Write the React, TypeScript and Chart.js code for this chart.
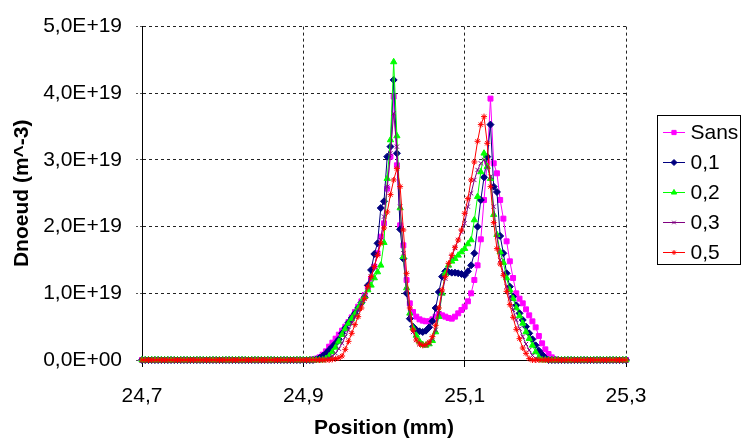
import React, { useEffect, useRef } from "react";
import { Chart, registerables } from "chart.js";
import { drawPoint } from "chart.js/helpers";

Chart.register(...registerables);

// Sampling grid of the profile (mm)
const POSITION_START = 24.7;
const POSITION_STEP = 0.004;

// Values in units of 1E19 m^-3, one per grid position (151 points, 24.700 .. 25.300)
const sans = [
  0, 0, 0, 0, 0, 0, 0, 0, 0, 0,
  0, 0, 0, 0, 0, 0, 0, 0, 0, 0,
  0, 0, 0, 0, 0, 0, 0, 0, 0, 0,
  0, 0, 0, 0, 0, 0, 0, 0, 0, 0,
  0, 0, 0, 0, 0, 0, 0, 0, 0, 0,
  0, 0, 0, 0.01, 0.02, 0.04, 0.08, 0.13, 0.2, 0.26,
  0.32, 0.38, 0.44, 0.5, 0.57, 0.64, 0.72, 0.8, 0.88, 0.97,
  1.08, 1.22, 1.4, 1.6, 1.85, 2.05, 2.57, 3.05, 3.95, 2.92,
  2.02, 1.72, 1.2, 0.85, 0.72, 0.65, 0.61, 0.59, 0.58, 0.58,
  0.61, 0.65, 0.69, 0.67, 0.65, 0.63, 0.62, 0.65, 0.7, 0.75,
  0.8, 0.88, 1.0, 1.2, 1.42, 1.81, 2.4, 2.98, 3.92, 2.95,
  2.8, 2.4, 2.12, 1.78, 1.48, 1.23, 1.0, 0.92, 0.85, 0.76,
  0.67, 0.58, 0.49, 0.36, 0.25, 0.16, 0.09, 0.04, 0.01, 0,
  0, 0, 0, 0, 0, 0, 0, 0, 0, 0,
  0, 0, 0, 0, 0, 0, 0, 0, 0, 0,
  0,
];

const s01 = [
  0, 0, 0, 0, 0, 0, 0, 0, 0, 0,
  0, 0, 0, 0, 0, 0, 0, 0, 0, 0,
  0, 0, 0, 0, 0, 0, 0, 0, 0, 0,
  0, 0, 0, 0, 0, 0, 0, 0, 0, 0,
  0, 0, 0, 0, 0, 0, 0, 0, 0, 0,
  0, 0, 0, 0, 0.01, 0.03, 0.06, 0.1, 0.15, 0.2,
  0.25, 0.31, 0.4, 0.48, 0.56, 0.63, 0.7, 0.78, 0.86, 0.94,
  1.12, 1.35, 1.59, 1.75, 2.28, 2.38, 3.05, 3.2, 4.2, 3.1,
  1.96, 1.52, 1.0, 0.62, 0.5, 0.45, 0.43, 0.42, 0.44, 0.49,
  0.58, 0.78, 1.02, 1.25, 1.33, 1.32, 1.31, 1.31, 1.3, 1.29,
  1.27, 1.33, 1.42, 1.6, 2.0, 2.4, 2.74, 3.05, 3.53, 2.6,
  2.52, 1.86, 1.6, 1.3, 1.1, 0.95, 0.82, 0.7, 0.6, 0.5,
  0.4, 0.31, 0.22, 0.14, 0.08, 0.03, 0, 0, 0, 0,
  0, 0, 0, 0, 0, 0, 0, 0, 0, 0,
  0, 0, 0, 0, 0, 0, 0, 0, 0, 0,
  0,
];

const s02 = [
  0, 0, 0, 0, 0, 0, 0, 0, 0, 0,
  0, 0, 0, 0, 0, 0, 0, 0, 0, 0,
  0, 0, 0, 0, 0, 0, 0, 0, 0, 0,
  0, 0, 0, 0, 0, 0, 0, 0, 0, 0,
  0, 0, 0, 0, 0, 0, 0, 0, 0, 0,
  0, 0, 0, 0, 0, 0, 0, 0.02, 0.06, 0.12,
  0.19, 0.28, 0.38, 0.47, 0.55, 0.62, 0.69, 0.78, 0.87, 0.95,
  1.05, 1.12, 1.23, 1.32, 1.42, 1.76, 2.72, 3.3, 4.47, 3.36,
  2.28, 1.55, 1.08, 0.7, 0.48, 0.37, 0.28, 0.23, 0.22, 0.24,
  0.29, 0.42, 0.65, 1.0, 1.3, 1.42, 1.48, 1.52, 1.57, 1.62,
  1.67, 1.74, 1.8, 2.1, 2.45, 2.82, 3.1, 2.9, 2.72, 2.18,
  1.88, 1.62, 1.46, 1.23, 1.05, 0.92, 0.78, 0.66, 0.55, 0.42,
  0.32, 0.22, 0.12, 0.04, 0, 0, 0, 0, 0, 0,
  0, 0, 0, 0, 0, 0, 0, 0, 0, 0,
  0, 0, 0, 0, 0, 0, 0, 0, 0, 0,
  0,
];

const s03 = [
  0, 0, 0, 0, 0, 0, 0, 0, 0, 0,
  0, 0, 0, 0, 0, 0, 0, 0, 0, 0,
  0, 0, 0, 0, 0, 0, 0, 0, 0, 0,
  0, 0, 0, 0, 0, 0, 0, 0, 0, 0,
  0, 0, 0, 0, 0, 0, 0, 0, 0, 0,
  0, 0, 0, 0, 0, 0, 0, 0.01, 0.03, 0.06,
  0.1, 0.17, 0.25, 0.35, 0.45, 0.55, 0.65, 0.75, 0.86, 0.98,
  1.1, 1.25, 1.4, 1.6, 1.8, 2.15, 2.6, 3.1, 3.7, 3.2,
  2.3, 1.6, 1.05, 0.65, 0.42, 0.3, 0.24, 0.22, 0.22, 0.25,
  0.32, 0.45, 0.7, 1.0, 1.22, 1.42, 1.55, 1.68, 1.8, 1.92,
  2.05, 2.3, 2.5, 2.7, 2.85, 2.95, 3.0, 2.9, 2.75, 2.3,
  1.85, 1.5, 1.3, 1.1, 0.92, 0.75, 0.6, 0.47, 0.35, 0.24,
  0.15, 0.07, 0.02, 0, 0, 0, 0, 0, 0, 0,
  0, 0, 0, 0, 0, 0, 0, 0, 0, 0,
  0, 0, 0, 0, 0, 0, 0, 0, 0, 0,
  0,
];

const s05 = [
  0, 0, 0, 0, 0, 0, 0, 0, 0, 0,
  0, 0, 0, 0, 0, 0, 0, 0, 0, 0,
  0, 0, 0, 0, 0, 0, 0, 0, 0, 0,
  0, 0, 0, 0, 0, 0, 0, 0, 0, 0,
  0, 0, 0, 0, 0, 0, 0, 0, 0, 0,
  0, 0, 0, 0, 0, 0, 0, 0, 0, 0.01,
  0.02, 0.03, 0.06, 0.16, 0.28, 0.4, 0.53, 0.65, 0.78, 0.92,
  1.1, 1.25, 1.4, 1.57, 1.75, 1.98, 2.22, 2.48, 2.7, 2.87,
  2.6, 1.95, 1.3, 0.78, 0.45, 0.3, 0.24, 0.22, 0.23, 0.27,
  0.35, 0.52, 0.78, 1.05, 1.25, 1.45, 1.57, 1.69, 1.8, 1.95,
  2.2, 2.42, 2.7, 2.97, 3.28, 3.53, 3.65, 3.25, 2.6, 2.06,
  1.67, 1.44, 1.27, 1.03, 0.83, 0.64, 0.46, 0.32, 0.18, 0.1,
  0.02, 0, 0, 0, 0, 0, 0, 0, 0, 0,
  0, 0, 0, 0, 0, 0, 0, 0, 0, 0,
  0, 0, 0, 0, 0, 0, 0, 0, 0, 0,
  0,
];

const seriesNames = ["Sans", "0,1", "0,2", "0,3", "0,5"];
const seriesValues = [sans, s01, s02, s03, s05];
const seriesColors = ["#FF00FF", "#000080", "#00FF00", "#800080", "#FF0000"];
const seriesMarkers = ["rect", "rectRot", "triangle", "crossRot", "star"];
const markerRadius = [3.5, 3.5, 3.6, 3, 3];

const xTickValues = [24.7, 24.9, 25.1, 25.3];
const xTickLabels = ["24,7", "24,9", "25,1", "25,3"];
const yTickValues = [0, 1, 2, 3, 4, 5];
const yTickLabels = ["0,0E+00", "1,0E+19", "2,0E+19", "3,0E+19", "4,0E+19", "5,0E+19"];

const xTitle = "Position (mm)";
const yTitle = "Dnoeud (m^-3)";

const FONT = "'Liberation Sans', Arial, sans-serif";

const legendPlugin = {
  id: "boxLegend",
  afterDraw(chart: any) {
    const ctx = chart.ctx;
    const area = chart.chartArea;
    const boxLeft = area.right + 31.5;
    const boxTop = 115.5;
    const boxW = 83;
    const boxH = 149;
    const rowH = 30;
    ctx.save();
    ctx.strokeStyle = "#000";
    ctx.lineWidth = 1;
    ctx.setLineDash([]);
    ctx.strokeRect(boxLeft, boxTop, boxW, boxH);
    ctx.font = `21px ${FONT}`;
    ctx.textBaseline = "middle";
    ctx.textAlign = "left";
    seriesNames.forEach((name, i) => {
      const y = boxTop + 17 + i * rowH;
      const x0 = boxLeft + 5.5;
      ctx.strokeStyle = seriesColors[i];
      ctx.fillStyle = seriesColors[i];
      ctx.lineWidth = 1;
      ctx.beginPath();
      ctx.moveTo(x0, y);
      ctx.lineTo(x0 + 22, y);
      ctx.stroke();
      drawPoint(ctx, { pointStyle: seriesMarkers[i], radius: markerRadius[i] - 0.5, borderWidth: 1, rotation: 0 } as any, x0 + 11, y);
      ctx.fillStyle = "#000";
      ctx.fillText(name, boxLeft + 33, y + 1);
    });
    ctx.restore();
  },
};

export default function App() {
  const canvasRef = useRef<HTMLCanvasElement | null>(null);

  useEffect(() => {
    const canvas = canvasRef.current;
    if (!canvas) return;
    const positions = sans.map((_, i) => +(POSITION_START + i * POSITION_STEP).toFixed(3));

    const datasets = seriesValues.map((vals, s) => ({
      label: seriesNames[s],
      data: vals.map((v, i) => ({ x: positions[i], y: v })),
      borderColor: seriesColors[s],
      backgroundColor: seriesColors[s],
      pointBackgroundColor: seriesColors[s],
      pointBorderColor: seriesColors[s],
      pointStyle: seriesMarkers[s] as any,
      pointRadius: markerRadius[s],
      pointBorderWidth: 1,
      borderWidth: 1,
      tension: 0,
      fill: false,
      clip: false as any,
      order: 5 - s,
    }));

    const tickFont = { family: FONT, size: 21 };
    const titleFont = { family: FONT, size: 21, weight: "bold" as any };

    const chart = new Chart(canvas, {
      type: "line",
      data: { datasets },
      plugins: [legendPlugin],
      options: {
        animation: false,
        responsive: false,
        devicePixelRatio: 1,
        events: [],
        layout: { padding: { top: 20, right: 115, bottom: 0, left: 0 } },
        plugins: { legend: { display: false }, tooltip: { enabled: false } },
        scales: {
          x: {
            type: "linear",
            min: 24.7,
            max: 25.3,
            afterBuildTicks: (s: any) => {
              s.ticks = xTickValues.map((v) => ({ value: v }));
            },
            afterFit: (s: any) => {
              s.height = 83;
            },
            ticks: {
              callback: (_v: any, i: number) => xTickLabels[i],
              font: tickFont,
              color: "#000",
              padding: 17,
              maxRotation: 0,
              autoSkip: false,
            },
            grid: {
              color: "#222",
              lineWidth: 1,
              tickLength: 7,
              tickColor: "#000",
              tickBorderDash: [],
            },
            border: { display: true, color: "#000", width: 1, dash: [3, 3] },
            title: {
              display: true,
              text: xTitle,
              font: titleFont,
              color: "#000",
              padding: { top: 0, bottom: 2.4 },
            },
          },
          y: {
            type: "linear",
            min: 0,
            max: 5,
            afterBuildTicks: (s: any) => {
              s.ticks = yTickValues.map((v) => ({ value: v }));
            },
            afterFit: (s: any) => {
              s.width = 142;
            },
            ticks: {
              callback: (_v: any, i: number) => yTickLabels[i],
              font: tickFont,
              color: "#000",
              padding: 14,
            },
            grid: {
              color: "#222",
              lineWidth: 1,
              tickLength: 6,
              tickColor: "#555",
              tickBorderDash: [2, 2],
            },
            border: { display: true, color: "#000", width: 1, dash: [3, 3] },
            title: {
              display: true,
              text: yTitle,
              font: titleFont,
              color: "#000",
              padding: { top: 10, bottom: 0 },
            },
          },
        },
      } as any,
    });
    return () => chart.destroy();
  }, []);

  return (
    <div style={{ position: "absolute", left: 0, top: 0, width: 741, height: 443, background: "#fff" }}>
      <canvas ref={canvasRef} width={741} height={443} style={{ display: "block" }} />
    </div>
  );
}
